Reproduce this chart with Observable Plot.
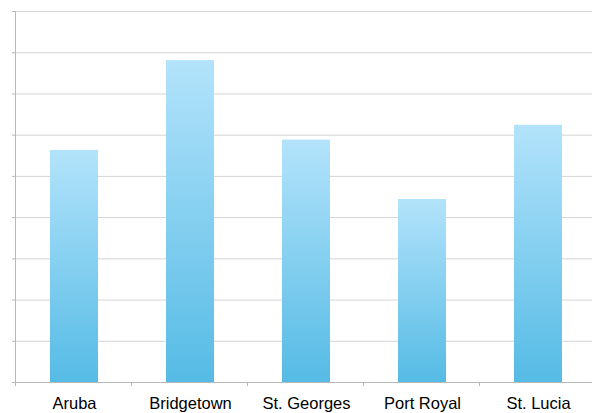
<!DOCTYPE html>
<html><head><meta charset="utf-8">
<script src="https://cdn.jsdelivr.net/npm/d3@7"></script>
<script src="https://cdn.jsdelivr.net/npm/@observablehq/plot@0.6"></script>
<style>body{margin:0;background:#fff;overflow:hidden}</style>
</head><body><div id="chart"></div>
<script>
const categories = ["Aruba", "Bridgetown", "St. Georges", "Port Royal", "St. Lucia"];
const values = [56.3, 78.1, 58.8, 44.4, 62.4];
const yTicks = [0, 10, 20, 30, 40, 50, 60, 70, 80, 90];
const data = categories.map((c, i) => ({city: c, value: values[i]}));

const chart = Plot.plot({
  width: 592, height: 413,
  marginLeft: 15, marginRight: 0, marginTop: 11, marginBottom: 31,
  style: {fontFamily: "'Liberation Sans', Arial, sans-serif", fontSize: "16.5px", color: "#000", background: "#fff"},
  x: {domain: categories, range: [15, 597], paddingInner: 0.588, paddingOuter: 0.294, label: null},
  y: {domain: [0, 90], label: null},
  marks: [
    Plot.gridY(yTicks, {stroke: "#d4d4d4", strokeOpacity: 1}),
    Plot.axisY(yTicks, {tickSize: 3, tickFormat: () => "", stroke: "#b8b8b8", strokeOpacity: 1}),
    Plot.barY(data, {x: "city", y: "value", fill: "url(#barGrad)"}),
    Plot.ruleY([0], {stroke: "#b8b8b8"}),
    Plot.axisX({tickSize: 0, tickPadding: 15, fill: "#000"})
  ]
});

const svg = d3.select(chart);
const defs = svg.insert("defs", ":first-child");
const grad = defs.append("linearGradient").attr("id", "barGrad")
  .attr("x1", 0).attr("y1", 0).attr("x2", 0).attr("y2", 1);
grad.append("stop").attr("offset", "0%").attr("stop-color", "#b3e3fb");
grad.append("stop").attr("offset", "100%").attr("stop-color", "#55bbe5");

// left axis line and band-edge ticks derived from scales
const xs = chart.scale("x"), ys = chart.scale("y");
const r0 = xs.range[0];
const step = xs.step ?? ((xs.range[1] - xs.range[0]) / categories.length);
const yBottom = ys.apply(0), yTop = ys.apply(90);
const g = svg.append("g").attr("stroke", "#b8b8b8");
g.append("line").attr("x1", r0 + 0.5).attr("x2", r0 + 0.5).attr("y1", yTop).attr("y2", yBottom + 0.5);
categories.forEach((c, i) => {
  const xe = Math.round(r0 + i * step) + 0.5;
  g.append("line").attr("x1", xe).attr("x2", xe).attr("y1", yBottom).attr("y2", yBottom + 4);
});
document.getElementById("chart").appendChild(chart);
</script>
</body></html>
